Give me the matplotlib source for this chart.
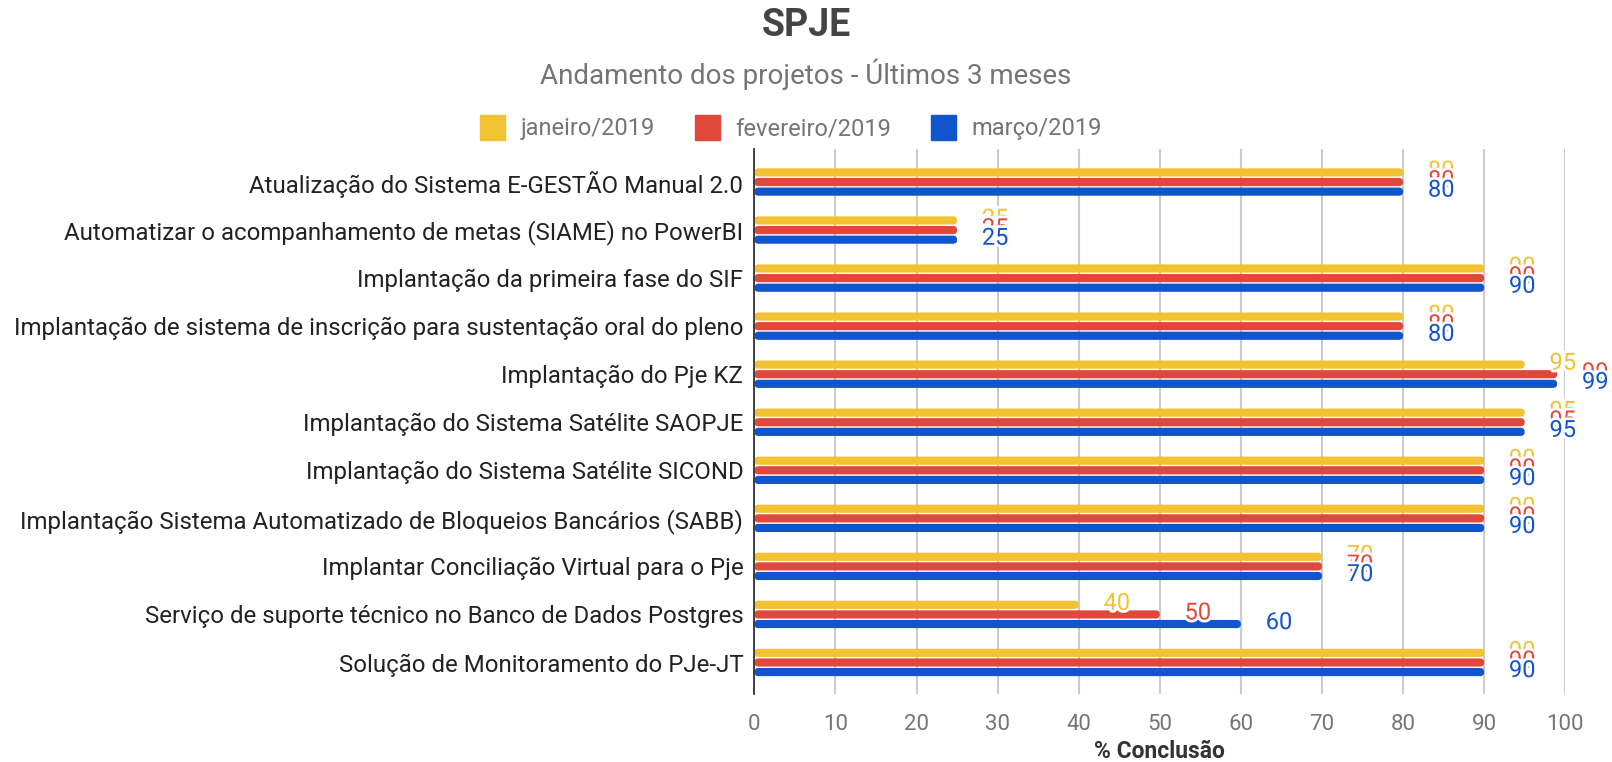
import numpy as np
import matplotlib
matplotlib.use('Agg')
import matplotlib.pyplot as plt
import matplotlib.patheffects as pe
from matplotlib.lines import Line2D
from matplotlib.patches import FancyBboxPatch

plt.rcParams['font.family'] = ['Roboto', 'DejaVu Sans']

projetos = [
    'Atualização do Sistema E-GESTÃO Manual 2.0',
    'Automatizar o acompanhamento de metas (SIAME) no PowerBI',
    'Implantação da primeira fase do SIF',
    'Implantação de sistema de inscrição para sustentação oral do pleno',
    'Implantação do Pje KZ',
    'Implantação do Sistema Satélite SAOPJE',
    'Implantação do Sistema Satélite SICOND',
    'Implantação Sistema Automatizado de Bloqueios Bancários (SABB)',
    'Implantar Conciliação Virtual para o Pje',
    'Serviço de suporte técnico no Banco de Dados Postgres',
    'Solução de Monitoramento do PJe-JT',
]
meses = ['janeiro/2019', 'fevereiro/2019', 'março/2019']
janeiro   = [80, 25, 90, 80, 95, 95, 90, 90, 70, 40, 90]
fevereiro = [80, 25, 90, 80, 99, 95, 90, 90, 70, 50, 90]
marco     = [80, 25, 90, 80, 99, 95, 90, 90, 70, 60, 90]
xticks = [0, 10, 20, 30, 40, 50, 60, 70, 80, 90, 100]

cores = ['#f1c232', '#e0483a', '#1155cc']
series = [janeiro, fevereiro, marco]

fig = plt.figure(figsize=(16.12, 7.62), dpi=100, facecolor='white')
ax = fig.add_axes([0.468, 0.089, 0.503, 0.715])

y = np.arange(len(projetos))
offs = [-0.2, 0.0, 0.2]
halo = [pe.withStroke(linewidth=4, foreground='white')]

# barras com pontas arredondadas (mesma geometria do barh)
for vals, cor, off in zip(series, cores, offs):
    bars = ax.barh(y + off, vals, height=0.17, color=cor, zorder=3)
    for r in bars:
        r.set_visible(False)
        ax.add_patch(FancyBboxPatch((r.get_x(), r.get_y()), r.get_width(), r.get_height(),
                                    boxstyle='round,pad=0,rounding_size=0.5',
                                    mutation_aspect=0.17, facecolor=cor,
                                    edgecolor='none', zorder=3))
for i in range(len(projetos)):
    for vals, cor, off in zip(series, cores, offs):
        ax.text(vals[i] + 4.7, i + off - 0.03, f'{vals[i]}', color=cor, fontsize=17,
                ha='center', va='center', zorder=5, clip_on=False,
                path_effects=halo)

ax.set_xlim(0, 100)
ax.set_ylim(10.66, -0.68)
ax.set_xticks(xticks)
ax.set_yticks(y)
ax.set_yticklabels(projetos, fontsize=17.3, color='#222222')
ax.tick_params(axis='y', length=0, pad=8)
ax.tick_params(axis='x', length=0, pad=14, labelsize=16, labelcolor='#757575')
ax.grid(axis='x', color='#cccccc', linewidth=1.5, zorder=0)
for s in ['top', 'right', 'bottom']:
    ax.spines[s].set_visible(False)
ax.spines['left'].set_color('#333333')
ax.spines['left'].set_linewidth(1.3)
ax.spines['left'].set_zorder(4)
ax.set_xlabel('% Conclusão', fontsize=16.5, fontweight='bold', color='#333333', labelpad=4)

fig.text(0.5, 0.967, 'SPJE', ha='center', va='center', fontsize=27,
         fontweight='bold', color='#444444')
fig.text(0.5, 0.902, 'Andamento dos projetos - Últimos 3 meses', ha='center',
         va='center', fontsize=20, color='#757575')

handles = [Line2D([], [], marker='s', linestyle='none', markersize=18,
                  markerfacecolor=c, markeredgecolor=c) for c in cores]
fig.legend(handles, meses, loc='center', bbox_to_anchor=(0.49, 0.831), ncol=3,
           frameon=False, fontsize=17, labelcolor='#757575', handletextpad=0.6,
           columnspacing=1.6, handlelength=1.2)

fig.savefig('out.png', dpi=100, facecolor='white')
